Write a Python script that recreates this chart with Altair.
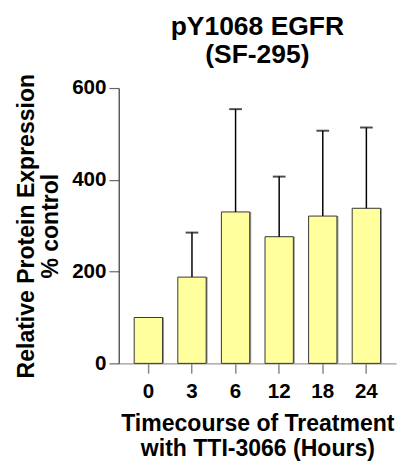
import altair as alt
import pandas as pd

times = ["0", "3", "6", "12", "18", "24"]
means = [100, 188, 330, 276, 321, 338]
upper = [100, 285, 554, 407, 507, 514]

df = pd.DataFrame({"time": times, "mean": means, "upper": upper})
FONT = "Liberation Sans"

x = alt.X("time:N", sort=times,
          scale=alt.Scale(paddingInner=0.35, paddingOuter=0.355),
          axis=alt.Axis(title=["Timecourse of Treatment", "with TTI-3066 (Hours)"],
                        labelAngle=0, labelFontSize=21, labelFont=FONT, labelFontWeight="bold",
                        labelColor="black", labelPadding=8,
                        titleFontSize=23.5, titleFont=FONT, titleFontWeight="bold", titleColor="black",
                        titlePadding=11, titleLineHeight=25,
                        domainColor="#999999", domainWidth=1.5, tickColor="#888888", tickWidth=1.5,
                        tickSize=10))

y_axis = alt.Axis(title=["Relative Protein Expression", "% control"],
                  values=[0, 200, 400, 600], labelFontSize=21, labelFont=FONT,
                  labelFontWeight="bold", labelColor="black", labelPadding=3,
                  titleFontSize=23.5, titleFont=FONT, titleFontWeight="bold", titleColor="black",
                  titlePadding=9, titleLineHeight=25,
                  domainColor="#333333", domainWidth=1.2, tickColor="#666666", tickWidth=1.2,
                  tickSize=10, grid=False)

yscale = alt.Scale(domain=[0, 600], nice=False)
y = alt.Y("mean:Q", scale=yscale, axis=y_axis)

shadow = alt.Chart(df).mark_bar(fill="#999999", xOffset=1.5).encode(x=x, y=y)

bars = alt.Chart(df).mark_bar(fill="#FFFF9E", stroke="#333333", strokeWidth=1).encode(x=x, y=y)

err_df = df[df["upper"] > df["mean"]]
rules = alt.Chart(err_df).mark_rule(color="black", strokeWidth=1.5).encode(
    x=alt.X("time:N", sort=times),
    y=alt.Y("mean:Q", scale=yscale),
    y2="upper:Q",
)
caps = alt.Chart(err_df).mark_tick(color="black", thickness=2, size=13, orient="horizontal").encode(
    x=alt.X("time:N", sort=times),
    y=alt.Y("upper:Q", scale=yscale),
)

chart = alt.layer(shadow, bars, rules, caps).properties(
    width=283, height=281,
    title=alt.TitleParams(["pY1068 EGFR", "(SF-295)"], fontSize=27, font=FONT,
                          fontWeight="bold", color="black", anchor="middle",
                          frame="group", offset=5, lineHeight=28),
    autosize=alt.AutoSizeParams(type="none"),
    padding={"left": 113, "top": 77, "right": 1, "bottom": 98},
).configure_view(stroke=None)

chart.save("out.html", embed_options={"renderer": "svg", "actions": False})
